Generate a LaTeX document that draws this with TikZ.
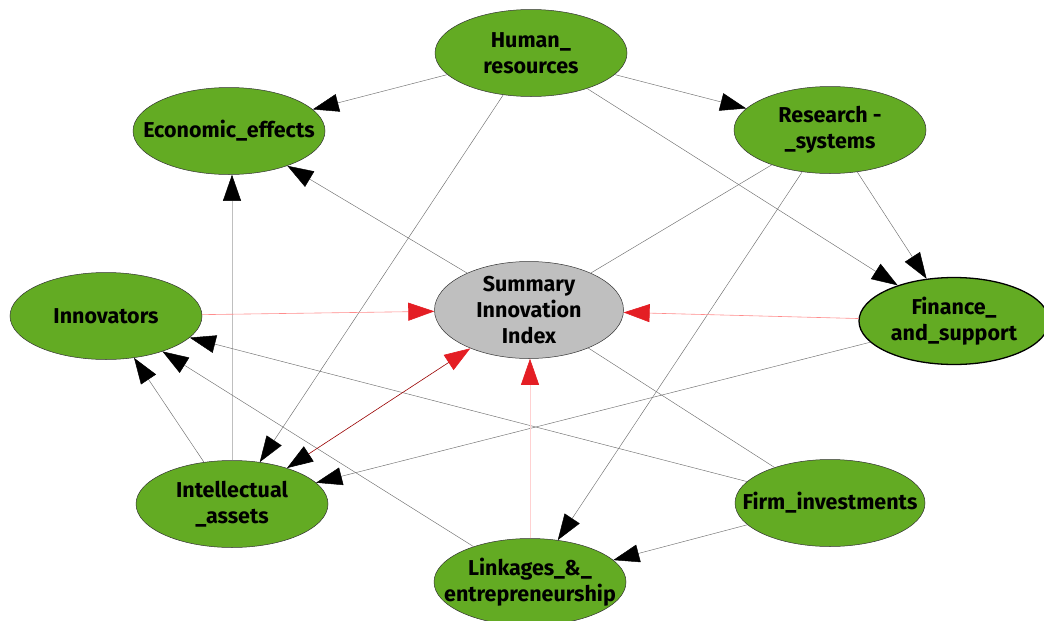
\documentclass[tikz,border=0pt]{standalone}
\usepackage{fontspec}
\setmainfont{Fira Sans}
\usetikzlibrary{shapes.geometric,arrows.meta}
\definecolor{leaf}{RGB}{99,171,35}
\definecolor{hub}{RGB}{191,191,191}
\definecolor{tipred}{RGB}{228,30,36}
\definecolor{linkgray}{RGB}{110,110,110}
\begin{document}
\begin{tikzpicture}[x=1pt,y=-1pt,
  blob/.style={ellipse,draw=black!80,line width=0.5pt,fill=leaf,inner xsep=-30pt,inner ysep=-12pt,
    minimum width=192pt,minimum height=87pt,align=center,
    font=\fontsize{21.5}{26}\selectfont\bfseries},
  hubnode/.style={blob,fill=hub,minimum width=189pt,minimum height=97pt},
  conn/.style={draw=linkgray,line width=0.45pt,-{Triangle[length=26pt,width=18pt,color=black]}},
  plain/.style={draw=linkgray,line width=0.45pt},
  redconn/.style={line width=0.6pt,-{Triangle[length=26pt,width=18pt,color=tipred]}}
]
\useasboundingbox (0,0) rectangle (1044,621);
\node[blob] (hr) at (531,53) {Human\_\\resources};
\node[blob] (ee) at (229,131) {Economic\_effects};
\node[blob] (rs) at (830,130) {Research -\\\_systems};
\node[blob] (inn) at (106,316) {Innovators};
\node[hubnode] (sii) at (529,310) {Summary\\Innovation\\Index};
\node[blob,line width=1.3pt,draw=black,minimum width=190pt,minimum height=87pt] (fs) at (954,321) {Finance\_\\and\_support};
\node[blob] (ia) at (232,504) {Intellectual\\\_assets};
\node[blob,minimum width=190pt] (fi) at (830,503) {Firm\_investments};
\node[blob] (le) at (530,582) {Linkages\_\&\_\\entrepreneurship};

\draw[conn] (hr) -- (ee);
\draw[conn] (hr) -- (rs);
\draw[conn] (hr) -- (fs);
\draw[conn] (hr) -- (ia);
\draw[conn] (rs) -- (fs);
\draw[conn] (rs) -- (le);
\draw[plain] (sii) -- (rs);
\draw[conn] (sii) -- (ee);
\draw[plain] (sii) -- (fi);
\draw[conn] (fs) -- (ia);
\draw[conn] (ia) -- (inn);
\draw[conn,draw=black!25] (ia.north) -- (ia.north |- ee.south);
\draw[conn] (fi) -- (inn);
\draw[conn] (le) -- (inn);
\draw[conn] (fi) -- (le);
\draw[redconn,draw=red!45] (inn) -- (sii);
\draw[redconn,draw=red!45] (fs) -- (sii);
\draw[redconn,draw=red!18] (le.north) -- (le.north |- sii.south);
\draw[redconn,draw=red!60!black,{Triangle[length=26pt,width=18pt,color=black]}-{Triangle[length=26pt,width=18pt,color=tipred]}] (ia) -- (sii);
\end{tikzpicture}
\end{document}
